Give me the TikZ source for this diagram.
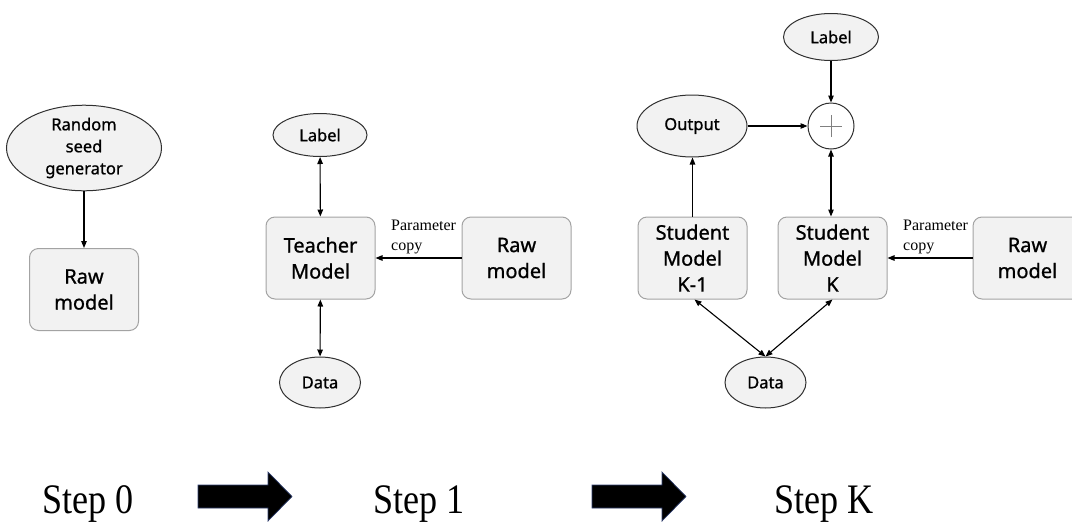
\documentclass[tikz,border=0pt]{standalone}
\usepackage{graphicx}
\usepackage{fontspec}
\setmainfont{Liberation Serif}
\newfontfamily\uisans[FakeBold=0.9]{Noto Sans}
\usetikzlibrary{arrows.meta,shapes.geometric}
\definecolor{fillgray}{HTML}{F2F2F2}
\definecolor{boxgray}{HTML}{A3A3A3}
\definecolor{ovalline}{HTML}{303030}
\definecolor{arrowedge}{HTML}{2F3F6F}
\begin{document}
\begin{tikzpicture}[x=1pt,y=-1pt,
  model/.style={draw=boxgray, fill=fillgray, rounded corners=9pt, minimum width=109pt,
    minimum height=82pt, line width=1pt, font=\uisans\fontsize{20}{26}\selectfont,
    align=center, inner sep=0pt},
  oval/.style={ellipse, draw=ovalline, fill=fillgray, line width=1pt, inner sep=0pt,
    font=\uisans\fontsize{16.5}{22}\selectfont, align=center},
  sumnode/.style={circle, draw=ovalline, fill=white, line width=1pt, minimum size=46pt, inner sep=0pt},
  link/.style={-{Triangle[length=7pt,width=5.5pt]}, line width=1.1pt},
  twoway/.style={{Triangle[length=7pt,width=5.5pt]}-{Triangle[length=7pt,width=5.5pt]}, line width=1.1pt},
  note/.style={font=\fontsize{16}{20}\selectfont, align=left, anchor=north west, inner sep=0pt},
  steplabel/.style={font=\fontsize{42}{46}\selectfont, inner sep=0pt, anchor=base},
  bigarrow/.style={fill=black, draw=arrowedge, line width=0.7pt}
]
\useasboundingbox (0,0) rectangle (1072,523);

% ---------- Step 0 ----------
\node[oval, minimum width=155pt, minimum height=83pt] (seed) at (84,148) {Random\\seed\\generator};
\node[model] (raw0) at (84,289.5) {Raw\\model};
\draw[link] (seed) -- (raw0);

% ---------- Step 1 ----------
\node[oval, minimum width=94pt, minimum height=43pt] (label1) at (320,135) {Label};
\node[model] (teacher) at (320.5,258) {Teacher\\Model};
\node[model] (raw1) at (516.5,258) {Raw\\model};
\node[oval, minimum width=81pt, minimum height=51pt] (data1) at (320,382.5) {Data};
\draw[twoway] (label1) -- (teacher);
\draw[twoway] (teacher) -- (data1);
\draw[link] (raw1) -- (teacher);
\node[note] (pc1) at (391,219.5) {Parameter\\copy};

% ---------- Step K ----------
\node[oval, minimum width=95pt, minimum height=47pt] (labelK) at (831,37) {Label};
\node[sumnode] (plus) at (831,126) {};
\draw[gray, line width=0.8pt] ([xshift=-11pt]plus.center) -- ([xshift=11pt]plus.center);
\draw[gray, line width=0.8pt] ([yshift=-11pt]plus.center) -- ([yshift=11pt]plus.center);
\node[oval, minimum width=110pt, minimum height=62pt] (output) at (692,126) {Output};
\node[model] (sk1) at (692.5,258) {Student\\Model\\K-1};
\node[model] (sk) at (832.5,258) {Student\\Model\\K};
\begin{scope}
  \clip (0,0) rectangle (1072,523);
  \node[model] (rawK) at (1027.5,258) {Raw\\model};
\end{scope}
\node[oval, minimum width=81pt, minimum height=51pt] (dataK) at (765.5,382.5) {Data};
\draw[link] (labelK) -- (plus);
\draw[link] (output) -- (plus);
\draw[twoway] (plus.south) -- (plus.south |- sk.north);
\draw[link] (sk1.north) -- (sk1.north |- output.south);
\draw[link] (rawK.west) -- (sk.east);
\node[note] (pcK) at (903,219.5) {Parameter\\copy};
\draw[twoway] ([xshift=2pt]sk1.south) -- (dataK.north);
\draw[twoway] (sk.south) -- (dataK.north);

% ---------- Step labels ----------
\node[steplabel] (s0) at (88,513) {\scalebox{0.86}[1]{Step 0}};
\node[steplabel] (s1) at (419,513) {\scalebox{0.86}[1]{Step 1}};
\node[steplabel] (sK) at (824,513) {\scalebox{0.86}[1]{Step K}};
\draw[bigarrow] (198,485) -- (268,485) -- (268,472) -- (292,496.5) -- (268,521) -- (268,508) -- (198,508) -- cycle;
\draw[bigarrow] (592,485) -- (662,485) -- (662,472) -- (686,496.5) -- (662,521) -- (662,508) -- (592,508) -- cycle;
\end{tikzpicture}
\end{document}
